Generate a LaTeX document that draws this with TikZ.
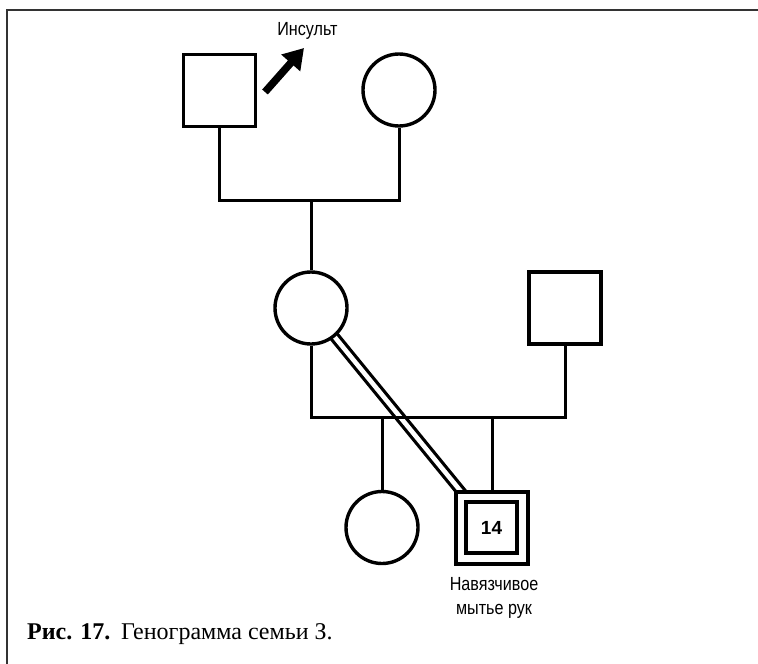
\documentclass[tikz,border=0pt]{standalone}
\usepackage{fontspec}
\setmainfont{Liberation Serif}
\newfontfamily\labelfont[FakeStretch=0.85]{Liberation Sans}
\newfontfamily\numfont{Liberation Sans}
\usetikzlibrary{arrows.meta}
\pgfdeclarelayer{background}
\pgfsetlayers{background,main}
\begin{document}
\begin{tikzpicture}[x=1pt,y=-1pt,
  male/.style={draw, fill=white, line width=3.6pt, rectangle, minimum size=72pt, inner sep=0pt},
  female/.style={draw, fill=white, line width=3.4pt, circle, minimum size=72pt, inner sep=0pt},
  link/.style={line width=3pt},
  bond/.style={line width=3.2pt, double=white, double distance=4.6pt},
  note/.style={font=\labelfont\fontsize{19}{24}\selectfont, align=center, inner sep=0pt},
  frameline/.style={line width=2pt, draw=black!80},
]
\useasboundingbox (0,0) rectangle (758,664);
\draw[frameline] (7,664) -- (7,10) -- (758,10);

% first generation
\node[male]   (gf) at (219.5,90.5) {};
\node[female] (gm) at (399,90) {};
\node[note]   (stroke) at (307.5,31) {Инсульт};
\coordinate (a1) at (265,92);
\coordinate (a2) at (304,48);
\draw[line width=7.5pt, -{Triangle[length=20pt,width=24pt]}] (a1) -- (a2);

% second generation
\node[female] (mo) at (311,308) {};
\node[male]   (fa) at (565,308) {};
\coordinate (m1) at (311,200);
\draw[link] (gf.south) |- (m1) -| (gm.south);
\draw[link] (m1) -- (mo.north);

% third generation
\node[female] (sis) at (382,527.5) {};
\node[male]   (pt) at (492,528) {};
\node[draw, line width=3.4pt, minimum size=51pt, inner sep=0pt,
      font=\numfont\bfseries\fontsize{19}{21}\selectfont] (pti) at (491.5,527.5) {14};
\coordinate (c1) at (382,417);
\coordinate (c2) at (492,417);
\draw[link] (mo.south) |- (c1) -- (c2) -| (fa.south);
\draw[link] (c1) -- (sis.north);
\draw[link] (c2) -- (pt.north);

% close bond between mother and son
\coordinate (b1) at (463,494);
\begin{pgfonlayer}{background}
  \draw[bond] (mo.center) -- (b1);
\end{pgfonlayer}

\node[note] (ptnote) at (494,598) {Навязчивое\\мытье рук};

% caption
\node[anchor=base west, inner sep=0pt] (cap) at (27,639)
  {\fontsize{24}{27}\selectfont\textbf{Рис. 17.}\hspace{0.45em}Генограмма семьи З.};
\end{tikzpicture}
\end{document}
